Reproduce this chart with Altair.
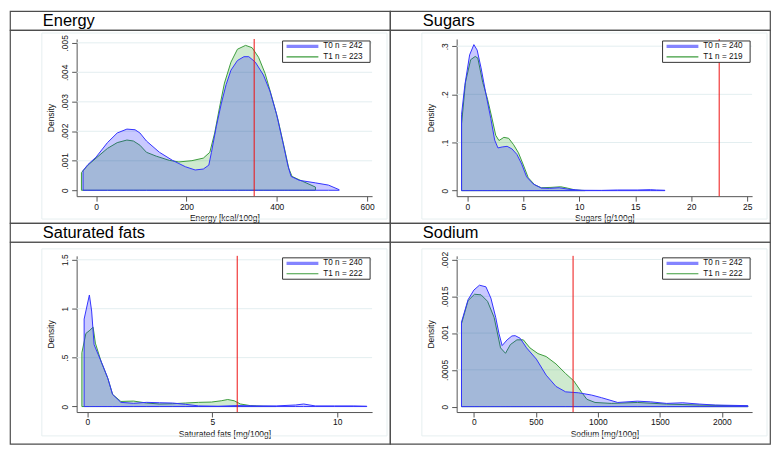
import altair as alt
import pandas as pd

FONT = "Liberation Sans"

# ---------------- data ----------------
TITLES = ["Energy", "Sugars", "Saturated fats", "Sodium"]
X_TITLES = ["Energy [kcal/100g]", "Sugars [g/100g]", "Saturated fats [mg/100g]", "Sodium [mg/100g]"]
X_TICKS = [[0, 200, 400, 600], [0, 5, 10, 15, 20, 25], [0, 5, 10], [0, 500, 1000, 1500, 2000]]
Y_TICKS = [[0, 0.001, 0.002, 0.003, 0.004, 0.005], [0, 0.1, 0.2, 0.3], [0, 0.5, 1, 1.5],
           [0, 0.0005, 0.001, 0.0015, 0.002]]
X_DOMAINS = [[-43, 611], [-0.96, 25.44], [-0.43, 11.4], [-139, 2244]]
Y_DOMAINS = [[-0.0002, 0.00513], [-0.0115, 0.315], [-0.056, 1.54], [-0.0000734, 0.00205]]
LIMITS = [350, 22.5, 6, 800]
N_T0 = [242, 240, 240, 242]
N_T1 = [223, 219, 222, 222]

ENERGY_T0_X = [-28.8, -18.0, 0, 25.2, 46.8, 68.3, 86.3, 97.1, 111.5, 140.3, 169.1, 197.8, 219.4, 237.4,
               249.6, 255.4, 266.2, 277.0, 287.8, 298.6, 312.9, 327.3, 338.1, 352.5, 370.5, 384.9, 399.3,
               413.7, 424.4, 431.6, 449.6, 485.6, 514.4, 538.1]
ENERGY_T0_D = [0.000666, 0.000873, 0.001124, 0.001616, 0.001943, 0.002074, 0.002052, 0.001943, 0.00167,
               0.001288, 0.001015, 0.000797, 0.000688, 0.00072, 0.000852, 0.001288, 0.002162, 0.002926,
               0.003581, 0.004072, 0.0044, 0.00453, 0.00453, 0.004345, 0.003908, 0.003362, 0.002598,
               0.001616, 0.000852, 0.000469, 0.000338, 0.000251, 0.000175, 0.00002]
ENERGY_T1_X = [-32.4, -18.0, 0, 25.2, 46.8, 68.3, 82.7, 97.1, 111.5, 133.1, 161.9, 183.4, 212.2, 237.4,
               251.8, 262.6, 273.4, 284.2, 298.6, 312.9, 330.9, 345.3, 359.7, 374.1, 388.5, 402.9, 417.3,
               426.6, 433.8, 456.8, 485.6]
ENERGY_T1_D = [0.0006, 0.000852, 0.00109, 0.00142, 0.001616, 0.001703, 0.00167, 0.001528, 0.001288,
               0.001157, 0.001015, 0.000961, 0.001004, 0.00109, 0.001288, 0.001943, 0.002817, 0.003635,
               0.004345, 0.004782, 0.004913, 0.004836, 0.004509, 0.003963, 0.003199, 0.00238, 0.001397,
               0.000742, 0.000469, 0.000306, 0.000109]

SUGARS_T0_X = [-0.52, -0.23, 0.20, 0.58, 0.87, 1.22, 1.66, 2.09, 2.44, 2.73, 3.11, 3.55, 3.98, 4.42, 4.85,
               5.29, 5.87, 6.60, 7.33, 8.20, 9.07, 10.23, 11.98, 13.43, 15.17, 16.34, 16.92, 17.65]
SUGARS_T0_D = [0.1587, 0.2187, 0.282, 0.3033, 0.292, 0.255, 0.2, 0.15, 0.105, 0.0887, 0.0907, 0.092,
               0.0867, 0.0753, 0.0553, 0.0287, 0.014, 0.0053, 0.0047, 0.006, 0.0027, 0.0007, 0.0005,
               0.0013, 0.0013, 0.002, 0.0013, 0.0007]
SUGARS_T1_X = [-0.52, -0.17, 0.29, 0.70, 0.93, 1.37, 1.80, 2.15, 2.53, 2.82, 3.26, 3.69, 4.13, 4.56, 5.00,
               5.44, 6.02, 6.60, 7.47, 8.34, 8.92, 9.65, 10.52]
SUGARS_T1_D = [0.1387, 0.2253, 0.272, 0.2787, 0.2753, 0.225, 0.19, 0.155, 0.115, 0.104, 0.1107, 0.1087,
               0.0953, 0.0787, 0.0533, 0.0267, 0.012, 0.006, 0.0067, 0.008, 0.0053, 0.0013, 0.0002]

SATFAT_T0_X = [-0.13, 0.08, 0.17, 0.27, 0.43, 0.62, 0.82, 1.01, 1.34, 1.85, 2.37, 2.89, 3.41, 3.93, 4.45,
               5.23, 6.01, 6.78, 7.56, 8.34, 8.66, 9.12, 9.90, 10.67, 11.19]
SATFAT_T0_D = [0.894, 1.14, 0.976, 0.632, 0.534, 0.419, 0.288, 0.124, 0.043, 0.033, 0.043, 0.039, 0.036,
               0.023, 0.0066, 0.0033, 0.0098, 0.0066, 0.0066, 0.016, 0.026, 0.0066, 0.0066, 0.0066, 0.0033]
SATFAT_T1_X = [-0.22, -0.06, 0.10, 0.23, 0.32, 0.56, 0.82, 1.01, 1.34, 1.85, 2.37, 2.89, 3.41, 3.93, 4.45,
               4.97, 5.36, 5.62, 5.88, 6.13, 6.52, 7.04, 7.56]
SATFAT_T1_D = [0.55, 0.747, 0.78, 0.812, 0.648, 0.452, 0.288, 0.124, 0.052, 0.056, 0.036, 0.026, 0.029,
               0.036, 0.043, 0.046, 0.059, 0.072, 0.059, 0.026, 0.0098, 0.0033, 0.0005]

SODIUM_T0_X = [-100, -47, 0, 45, 97, 137, 176, 202, 228, 268, 307, 333, 373, 425, 504, 583, 662, 740, 845,
               950, 1029, 1160, 1318, 1423, 1554, 1685, 1817, 1948, 2210]
SODIUM_T0_D = [0.001149, 0.001454, 0.001585, 0.001651, 0.001629, 0.001476, 0.001214, 0.000996, 0.00083,
               0.000908, 0.000961, 0.000965, 0.00093, 0.000799, 0.000646, 0.000428, 0.000275, 0.000201,
               0.000188, 0.000157, 0.000122, 0.0000568, 0.0000742, 0.0000655, 0.0000437, 0.0000524,
               0.0000349, 0.0000218, 0.0000131]
SODIUM_T1_X = [-100, -47, 5, 58, 110, 163, 215, 255, 294, 347, 399, 452, 517, 583, 662, 740, 806, 872, 911,
               977, 1108, 1318, 1554, 1817, 2210]
SODIUM_T1_D = [0.001127, 0.001441, 0.001528, 0.00152, 0.001432, 0.001214, 0.000799, 0.000725, 0.000843,
               0.000908, 0.000908, 0.000799, 0.000721, 0.000681, 0.000581, 0.00045, 0.000349, 0.000188,
               0.0001, 0.0000568, 0.0000437, 0.0000568, 0.0000349, 0.0000218, 0.0000087]

SERIES = [
    ((ENERGY_T0_X, ENERGY_T0_D), (ENERGY_T1_X, ENERGY_T1_D)),
    ((SUGARS_T0_X, SUGARS_T0_D), (SUGARS_T1_X, SUGARS_T1_D)),
    ((SATFAT_T0_X, SATFAT_T0_D), (SATFAT_T1_X, SATFAT_T1_D)),
    ((SODIUM_T0_X, SODIUM_T0_D), (SODIUM_T1_X, SODIUM_T1_D)),
]

# ---------------- styling ----------------
W = 382
TH = 19
X0, X1 = 67, 364
FRAME = "#4d4d4d"
GRID = "#e3eef0"
INNER = "#e6eff0"
RED = "#ee1111"
T0_LINE, T0_FILL, T0_LEG = "#3333ff", "#0000ff", "#8484ff"
T1_LINE, T1_FILL = "#3c9c3c", "#1a9a1a"
LABEL_EXPR = ("datum.value == 0 ? '0' : (datum.value < 1 ? substring(toString(datum.value), 1) "
              ": toString(datum.value))")

one = pd.DataFrame({"k": [0]})


def title_cell(i):
    return alt.Chart(pd.DataFrame({"t": [TITLES[i]]})).mark_text(
        align="left", baseline="alphabetic", fontSize=16.5, font=FONT, color="black").encode(
        x=alt.value(33), y=alt.value(15), text="t:N").properties(width=W, height=TH)


def plot_cell(i, top_row):
    H = 194 if top_row else 203
    ybot = 167 if top_row else 171
    ytop = 9 if top_row else 14
    box_top = 11 if top_row else 16
    inner0, inner1 = (3, 190) if top_row else (7, 195)

    xs = alt.Scale(domain=X_DOMAINS[i], range=[X0, X1], nice=False, zero=False)
    ys = alt.Scale(domain=Y_DOMAINS[i], range=[ybot, ytop], nice=False, zero=False)
    xa = alt.Axis(values=X_TICKS[i], format="d", title=X_TITLES[i], offset=-(H - ybot),
                  tickSize=5, labelPadding=1, titlePadding=3, labelFlush=False, grid=False)
    ya = alt.Axis(values=Y_TICKS[i], labelExpr=LABEL_EXPR, title="Density", offset=-X0,
                  labelAngle=270, labelAlign="center", labelBaseline="bottom",
                  tickSize=5, labelPadding=2, titlePadding=5, grid=False)

    layers = []
    layers.append(alt.Chart(one).mark_rect(fill="transparent", stroke=INNER, strokeWidth=1).encode(
        x=alt.value(32), x2=alt.value(379), y=alt.value(inner0), y2=alt.value(inner1)))
    layers.append(alt.Chart(pd.DataFrame({"v": Y_TICKS[i][1:]})).mark_rule(
        color=GRID, strokeWidth=1).encode(
        y=alt.Y("v:Q", scale=ys, axis=ya), x=alt.value(X0), x2=alt.value(X1)))

    (t0x, t0d), (t1x, t1d) = SERIES[i]
    for (xv, dv, fill, line) in [(t1x, t1d, T1_FILL, T1_LINE), (t0x, t0d, T0_FILL, T0_LINE)]:
        df = pd.DataFrame({"x": xv, "d": dv, "z": [0.0] * len(xv)})
        layers.append(alt.Chart(df).mark_area(
            fill=fill, fillOpacity=0.21, stroke=line, strokeWidth=1, strokeJoin="round").encode(
            x=alt.X("x:Q", scale=xs, axis=xa),
            y=alt.Y("d:Q", scale=ys, axis=ya),
            y2=alt.Y2("z:Q")))

    lim = pd.DataFrame({"v": [LIMITS[i]], "lo": [Y_DOMAINS[i][0]], "hi": [Y_DOMAINS[i][1]]})
    layers.append(alt.Chart(lim).mark_rule(color=RED, strokeWidth=1).encode(
        x=alt.X("v:Q", scale=xs, axis=xa), y=alt.Y("hi:Q", scale=ys, axis=ya), y2=alt.Y2("lo:Q")))

    # legend
    layers.append(alt.Chart(one).mark_rect(fill="white", stroke="#333333", strokeWidth=1).encode(
        x=alt.value(274), x2=alt.value(362), y=alt.value(box_top), y2=alt.value(box_top + 21.5)))
    rows = [(f"T0 n = {N_T0[i]}", T0_LEG, 3.2, box_top + 5.5),
            (f"T1 n = {N_T1[i]}", T1_LINE, 1.2, box_top + 16)]
    for lab, col, sw, yy in rows:
        layers.append(alt.Chart(one).mark_rule(color=col, strokeWidth=sw).encode(
            x=alt.value(278), x2=alt.value(310), y=alt.value(yy)))
        layers.append(alt.Chart(pd.DataFrame({"t": [lab]})).mark_text(
            align="left", baseline="middle", fontSize=8.2, font=FONT, color="#111111").encode(
            x=alt.value(315), y=alt.value(yy), text="t:N"))

    return alt.layer(*layers).properties(width=W, height=H)


cells = [title_cell(0), title_cell(1),
         plot_cell(0, True), plot_cell(1, True),
         title_cell(2), title_cell(3),
         plot_cell(2, False), plot_cell(3, False)]

chart = alt.concat(*cells, columns=2, spacing=0, bounds="flush").properties(
    padding=1, background="white"
).configure_view(
    stroke=FRAME, strokeWidth=1.2
).configure_axis(
    labelFont=FONT, titleFont=FONT, labelFontSize=8.5, titleFontSize=8.5,
    titleFontWeight="normal", domainColor="#555555", tickColor="#555555",
    labelColor="#111111", titleColor="#111111"
)

chart.save("out.html", embed_options={"renderer": "svg", "actions": False})
